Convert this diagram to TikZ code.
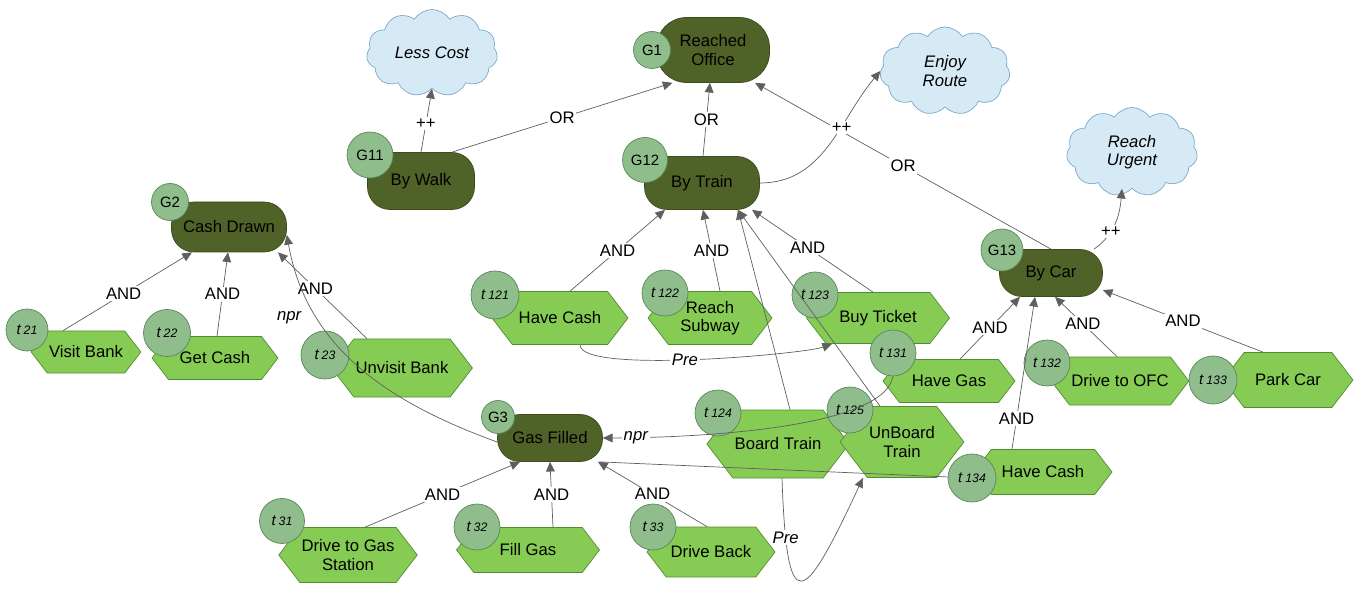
\documentclass[tikz,border=0pt]{standalone}
\usepackage{fontspec}
\setmainfont{Liberation Sans}
\usetikzlibrary{arrows.meta,shapes.symbols}

\definecolor{goalgreen}{RGB}{79,98,40}
\definecolor{goaledge}{RGB}{60,75,30}
\definecolor{taskgreen}{RGB}{134,204,84}
\definecolor{taskedge}{RGB}{84,140,52}
\definecolor{idgreen}{RGB}{143,190,140}
\definecolor{idedge}{RGB}{88,135,88}
\definecolor{softblue}{RGB}{214,234,246}
\definecolor{softedge}{RGB}{120,170,205}
\definecolor{linkgray}{RGB}{95,95,95}

\newcommand{\tsk}[1]{\textit{t}\,{\scriptsize\itshape #1}}

\begin{document}
\begin{tikzpicture}[
    font=\fontsize{9.5}{10.5}\selectfont,
    goal/.style={draw=goaledge, fill=goalgreen, rounded corners=0.45cm, align=center, inner sep=1pt},
    task/.style={signal, signal to=east and west, signal pointer angle=105, draw=taskedge, fill=taskgreen, align=center, inner sep=1pt},
    tid/.style={circle, draw=idedge, fill=idgreen, inner sep=0pt, font=\fontsize{8.5}{9}\selectfont},
    soft/.style={cloud, cloud puffs=11, cloud puff arc=115, aspect=1.5, draw=softedge, fill=softblue, align=center, inner sep=0pt, font=\fontsize{9.5}{10.5}\selectfont\itshape},
    link/.style={draw=linkgray, -{Triangle[length=5.5pt,width=5pt]}},
    plain/.style={draw=linkgray},
    lbl/.style={fill=white, inner sep=1pt},
    ilbl/.style={fill=white, inner sep=1pt, font=\fontsize{9.5}{10.5}\selectfont\itshape}
]
\useasboundingbox (0,0) rectangle (27.1,11.8);

% softgoals
\node[soft, minimum width=2.62cm, minimum height=1.74cm] (cost) at (8.64,10.74) {Less Cost};
\node[soft, minimum width=2.60cm, minimum height=1.76cm] (route) at (18.90,10.38) {Enjoy\\Route};
\node[soft, minimum width=2.62cm, minimum height=1.78cm] (urgent) at (22.64,8.76) {Reach\\Urgent};

% goals
\node[goal, minimum width=2.26cm, minimum height=1.3cm, rounded corners=0.6cm] (office) at (14.26,10.80) {Reached\\Office};
\node[goal, minimum width=2.14cm, minimum height=1.14cm] (walk) at (8.42,8.18) {By Walk};
\node[goal, minimum width=2.30cm, minimum height=1.06cm] (train) at (14.04,8.14) {By Train};
\node[goal, minimum width=2.06cm, minimum height=0.94cm] (car) at (21.02,6.34) {By Car};
\node[goal, minimum width=2.30cm, minimum height=1.00cm] (cashdr) at (4.58,7.26) {Cash Drawn};
\node[goal, minimum width=2.10cm, minimum height=0.94cm] (gasf) at (11.00,3.04) {Gas Filled};

% tasks
\node[task, minimum width=2.08cm, minimum height=0.84cm] (visit) at (1.72,4.76) {Visit Bank};
\node[task, minimum width=2.52cm, minimum height=0.86cm] (getcash) at (4.30,4.64) {Get Cash};
\node[task, minimum width=2.62cm, minimum height=1.16cm] (unvisit) at (8.04,4.44) {Unvisit Bank};
\node[task, minimum width=2.72cm, minimum height=1.06cm] (havecash) at (11.20,5.44) {Have Cash};
\node[task, minimum width=2.48cm, minimum height=1.06cm] (subway) at (14.20,5.44) {Reach\\Subway};
\node[task, minimum width=2.86cm, minimum height=1.02cm] (ticket) at (17.56,5.44) {Buy Ticket};
\node[task, minimum width=2.64cm, minimum height=0.86cm] (havegas) at (18.98,4.18) {Have Gas};
\node[task, minimum width=2.30cm, minimum height=0.96cm] (driveofc) at (22.40,4.18) {Drive to OFC};
\node[task, minimum width=2.60cm, minimum height=1.10cm] (park) at (25.76,4.20) {Park Car};
\node[task, minimum width=2.46cm, minimum height=1.36cm] (board) at (15.56,2.92) {Board Train};
\node[task, minimum width=2.46cm, minimum height=1.42cm] (unboard) at (18.04,2.96) {UnBoard\\Train};
\node[task, minimum width=2.76cm, minimum height=0.90cm] (havecash2) at (20.86,2.36) {Have Cash};
\node[task, minimum width=2.50cm, minimum height=1.10cm] (drivegas) at (6.96,0.70) {Drive to Gas\\Station};
\node[task, minimum width=2.86cm, minimum height=0.90cm] (fill) at (10.56,0.80) {Fill Gas};
\node[task, minimum width=2.56cm, minimum height=1.00cm] (back) at (14.22,0.76) {Drive Back};

% id circles
\node[tid, minimum size=0.74cm] (officeid) at (13.04,10.80) {G1};
\node[tid, minimum size=0.92cm] (walkid) at (7.40,8.70) {G11};
\node[tid, minimum size=0.90cm] (trainid) at (12.90,8.60) {G12};
\node[tid, minimum size=0.84cm] (carid) at (20.04,6.80) {G13};
\node[tid, minimum size=0.74cm] (cashdrid) at (3.40,7.76) {G2};
\node[tid, minimum size=0.66cm] (gasfid) at (9.96,3.46) {G3};
\node[tid, minimum size=0.84cm] (visitid) at (0.54,5.20) {\tsk{21}};
\node[tid, minimum size=0.94cm] (getcashid) at (3.34,5.14) {\tsk{22}};
\node[tid, minimum size=0.96cm] (unvisitid) at (6.50,4.70) {\tsk{23}};
\node[tid, minimum size=0.96cm] (havecashid) at (9.90,5.90) {\tsk{121}};
\node[tid, minimum size=0.92cm] (subwayid) at (13.30,5.94) {\tsk{122}};
\node[tid, minimum size=0.92cm] (ticketid) at (16.30,5.90) {\tsk{123}};
\node[tid, minimum size=0.92cm] (havegasid) at (17.86,4.74) {\tsk{131}};
\node[tid, minimum size=0.92cm] (driveofcid) at (20.94,4.54) {\tsk{132}};
\node[tid, minimum size=0.96cm] (parkid) at (24.26,4.20) {\tsk{133}};
\node[tid, minimum size=0.92cm] (boardid) at (14.36,3.54) {\tsk{124}};
\node[tid, minimum size=0.92cm] (unboardid) at (17.00,3.60) {\tsk{125}};
\node[tid, minimum size=0.96cm] (havecash2id) at (19.44,2.24) {\tsk{134}};
\node[tid, minimum size=0.90cm] (drivegasid) at (5.64,1.38) {\tsk{31}};
\node[tid, minimum size=0.92cm] (fillid) at (9.54,1.26) {\tsk{32}};
\node[tid, minimum size=0.92cm] (backid) at (13.06,1.26) {\tsk{33}};

% OR links to the root
\draw[link] (walk.43) -- node[lbl] {OR} (office.219);
\draw[link] ([xshift=0.02cm]train.north) -- node[lbl] {OR} ([xshift=-0.06cm]office.south);
\draw[link] (car.north) -- node[lbl] {OR} (office.-38);

% contributions
\draw[link] (walk.north) -- node[lbl, pos=0.45] {++} (cost.south);
\draw[link] (train.east) to[out=0, in=230] node[lbl, pos=0.63] {++} (route.west);
\draw[link] (car.29) to[out=35, in=-95] node[lbl, pos=0.35] {++} ([xshift=-0.2cm]urgent.south);

% AND links
\draw[link] ([xshift=0.2cm]havecash.north) -- node[lbl] {AND} ([xshift=-0.74cm]train.south);
\draw[link] ([xshift=0.2cm]subway.north) -- node[lbl] {AND} ([xshift=0.02cm]train.south);
\draw[link] ([xshift=-0.1cm]ticket.north) -- node[lbl, pos=0.54] {AND} ([xshift=1.0cm]train.south);
\draw[link] ([xshift=0.24cm]board.north) -- ([xshift=0.72cm]train.south);
\draw[link] ([xshift=-0.44cm]unboard.north) -- ([xshift=0.72cm]train.south);
\draw[link] ([xshift=0.22cm]havegas.north) -- node[lbl] {AND} ([xshift=-0.62cm]car.south);
\draw[link] ([xshift=-0.62cm]havecash2.north) -- node[lbl, pos=0.2] {AND} ([xshift=-0.32cm]car.south);
\draw[link] ([xshift=-0.06cm]driveofc.north) -- node[lbl, pos=0.55] {AND} ([xshift=0.08cm]car.south);
\draw[link] ([xshift=-0.5cm]park.north) -- node[lbl] {AND} ([yshift=-0.34cm]car.east);
\draw[link] ([xshift=-0.46cm]visit.north) -- node[lbl, pos=0.47] {AND} ([xshift=-0.74cm]cashdr.south);
\draw[link] ([xshift=0.04cm]getcash.north) -- node[lbl] {AND} ([xshift=-0.02cm]cashdr.south);
\draw[link] ([xshift=-0.7cm]unvisit.north) -- node[lbl, pos=0.58] {AND} ([xshift=0.98cm]cashdr.south);
\draw[link] ([xshift=0.34cm]drivegas.north) -- node[lbl] {AND} ([xshift=-0.6cm]gasf.south);
\draw[link] ([xshift=0.5cm]fill.north) -- node[lbl] {AND} ([xshift=0.0cm]gasf.south);
\draw[link] ([xshift=-0.08cm]back.north) -- node[lbl] {AND} ([xshift=0.96cm]gasf.south);

% npr and Pre links
\draw[link] ([yshift=-0.08cm]gasf.west) to[out=160, in=-80] node[ilbl, fill=none, left=8pt, pos=0.72] {npr} ([yshift=-0.16cm]cashdr.east);
\draw[link] (havegasid.south) to[out=-100, in=0, looseness=0.5] node[ilbl, pos=0.86] {npr} (gasf.east);
\draw[plain] (gasf.-26) -- (havecash2id);
\draw[link] ([xshift=0.4cm]havecash.south) to[out=-90, in=-160, looseness=0.3] node[ilbl, pos=0.47] {Pre} ([xshift=-0.92cm]ticket.south);
\draw[link] ([xshift=0.08cm]board.south) to[out=-88, in=-115, looseness=4.5] node[ilbl, pos=0.17] {Pre} ([xshift=-0.78cm]unboard.south);
\end{tikzpicture}
\end{document}
